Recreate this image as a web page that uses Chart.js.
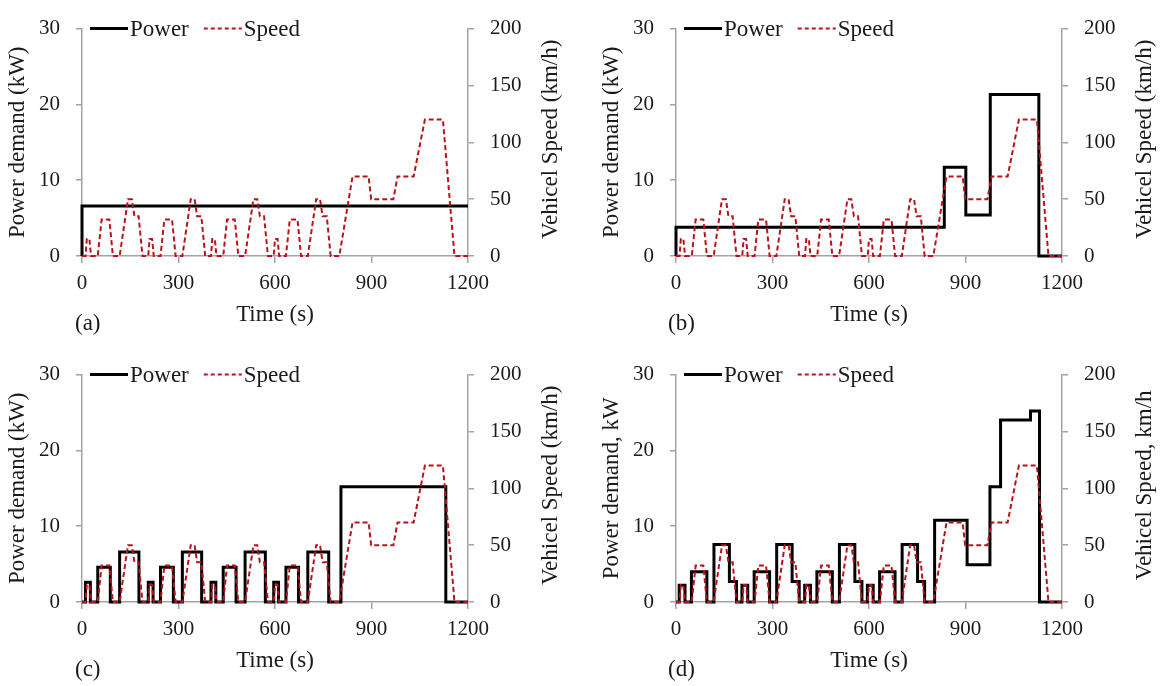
<!DOCTYPE html>
<html>
<head>
<meta charset="utf-8">
<script src="https://cdn.jsdelivr.net/npm/chart.js@4.4.1/dist/chart.umd.min.js"></script>
<style>
  body { margin: 0; background: #fff; }
  #wrap { position: relative; width: 1160px; height: 686px; overflow: hidden; }
  canvas { position: absolute; }
  .tag { position: absolute; font: 23px "Liberation Serif", serif; color: #1a1a1a; line-height: 23px; }
</style>
</head>
<body>
<div id="wrap">
  <canvas id="cA" width="580" height="346" style="left:0;top:0"></canvas>
  <canvas id="cB" width="580" height="346" style="left:594px;top:0"></canvas>
  <canvas id="cC" width="580" height="346" style="left:0;top:346px"></canvas>
  <canvas id="cD" width="580" height="346" style="left:594px;top:346px"></canvas>
  <span class="tag" style="left:75px;top:311px">(a)</span>
  <span class="tag" style="left:668px;top:311px">(b)</span>
  <span class="tag" style="left:75px;top:657px">(c)</span>
  <span class="tag" style="left:668px;top:657px">(d)</span>
</div>
<script>
// tick labels
const timeTicks = [0, 300, 600, 900, 1200];
const powerTicks = [0, 10, 20, 30];
const speedTicks = [0, 50, 100, 150, 200];

// speed profile (same in all four panels), km/h
const speedTime = [0, 11, 15, 23, 28, 49, 61, 85, 96, 117, 143, 155, 163, 176, 188,
  195, 206, 210, 218, 223, 244, 256, 280, 291, 312, 338, 350, 358, 371, 383,
  390, 401, 405, 413, 418, 439, 451, 475, 486, 507, 533, 545, 553, 566, 578,
  585, 596, 600, 608, 613, 634, 646, 670, 681, 702, 728, 740, 748, 761, 773,
  800, 841, 891, 899, 968, 981, 1031, 1066, 1122, 1158, 1200];
const speedKmh = [0, 0, 15, 15, 0, 0, 32, 32, 0, 0, 50, 50, 35, 35, 0,
  0, 0, 15, 15, 0, 0, 32, 32, 0, 0, 50, 50, 35, 35, 0,
  0, 0, 15, 15, 0, 0, 32, 32, 0, 0, 50, 50, 35, 35, 0,
  0, 0, 15, 15, 0, 0, 32, 32, 0, 0, 50, 50, 35, 35, 0,
  0, 70, 70, 50, 50, 70, 70, 120, 120, 0, 0];

// power demand, kW (each value holds until the next time)
const powerTimeA = [0, 0, 1200];
const powerKwA = [0, 6.6, 6.6];

const powerTimeB = [0, 0, 834, 901, 977, 1128, 1200];
const powerKwB = [0, 3.8, 11.7, 5.4, 21.3, 0, 0];

const powerTimeC = [0, 11, 26, 49, 88, 117, 177, 206, 221, 244, 284, 312, 372,
  401, 416, 439, 479, 507, 570, 596, 611, 634, 673, 702, 767, 805, 1131, 1200];
const powerKwC = [0, 2.6, 0, 4.6, 0, 6.6, 0, 2.6, 0, 4.6, 0, 6.6, 0,
  2.6, 0, 4.6, 0, 6.6, 0, 2.6, 0, 4.6, 0, 6.6, 0, 15.2, 0, 0];

const powerTimeD = [0, 10, 28, 48, 96, 118, 166, 188, 205, 223, 243, 291, 313, 361, 383,
  400, 418, 438, 486, 508, 556, 578, 595, 613, 633, 681, 703, 751, 773,
  804, 905, 976, 1009, 1102, 1130, 1200];
const powerKwD = [0, 2.2, 0, 4.0, 0, 7.6, 2.7, 0, 2.2, 0, 4.0, 0, 7.6, 2.7, 0,
  2.2, 0, 4.0, 0, 7.6, 2.7, 0, 2.2, 0, 4.0, 0, 7.6, 2.7, 0,
  10.8, 4.9, 15.2, 24.0, 25.2, 0, 0];

const FONT = '"Liberation Serif", serif';
const INK = '#1a1a1a';
const AXIS = '#a3a3a3';

// legend drawn on the top edge of the plot, like the original
const topLegend = {
  id: 'topLegend',
  afterDraw(chart) {
    const ctx = chart.ctx;
    let x = chart.chartArea.left + 8;
    const y = chart.chartArea.top;
    ctx.save();
    ctx.font = '23px ' + FONT;
    ctx.textBaseline = 'middle';
    chart.data.datasets.forEach(ds => {
      ctx.strokeStyle = ds.borderColor;
      ctx.lineWidth = ds.borderWidth;
      ctx.setLineDash(ds.legendDash || []);
      ctx.beginPath();
      ctx.moveTo(x, y);
      ctx.lineTo(x + 38, y);
      ctx.stroke();
      ctx.setLineDash([]);
      x += 40;
      ctx.fillStyle = INK;
      ctx.fillText(ds.label, x, y + 1);
      x += ctx.measureText(ds.label).width + 15;
    });
    ctx.restore();
  }
};

// right axis title reads bottom-to-top in the original, chart.js turns it the other way
const rightTitle = {
  id: 'rightTitle',
  afterDraw(chart, args, opts) {
    const s = chart.scales.y2;
    const ctx = chart.ctx;
    ctx.save();
    ctx.translate(s.right - 29, (chart.chartArea.top + chart.chartArea.bottom) / 2 - 3);
    ctx.rotate(-Math.PI / 2);
    ctx.font = '23px ' + FONT;
    ctx.fillStyle = INK;
    ctx.textAlign = 'center';
    ctx.textBaseline = 'middle';
    ctx.fillText(opts.text, 0, 0);
    ctx.restore();
  }
};

function pairs(xs, ys) {
  return xs.map((t, i) => ({x: t, y: ys[i]}));
}

function fixedTicks(list) {
  return scale => { scale.ticks = list.map(v => ({value: v})); };
}

function makeChart(id, pTime, pKw, leftText, rightText) {
  return new Chart(document.getElementById(id), {
    type: 'line',
    data: {
      datasets: [
        {
          label: 'Power',
          data: pairs(pTime, pKw),
          yAxisID: 'y',
          stepped: true,
          borderColor: '#000',
          borderWidth: 3,
          pointRadius: 0,
          clip: 4,
          order: 2
        },
        {
          label: 'Speed',
          data: pairs(speedTime, speedKmh),
          yAxisID: 'y2',
          borderColor: '#b8121b',
          borderWidth: 2,
          borderDash: [5, 3],
          legendDash: [4, 3],
          pointRadius: 0,
          tension: 0,
          clip: 4,
          order: 1
        }
      ]
    },
    options: {
      responsive: false,
      animation: false,
      devicePixelRatio: 1,
      layout: {padding: {top: 20, left: 0, right: 0, bottom: 0}},
      plugins: {
        legend: {display: false},
        tooltip: {enabled: false},
        rightTitle: {text: rightText}
      },
      scales: {
        x: {
          type: 'linear',
          min: 0, max: 1200,
          afterBuildTicks: fixedTicks(timeTicks),
          afterFit: s => { s.height = 90; },
          grid: {drawOnChartArea: false, tickLength: 7, color: AXIS, lineWidth: 1.5},
          border: {color: AXIS, width: 1.5},
          ticks: {font: {family: FONT, size: 21}, color: INK, padding: 8, maxRotation: 0,
                  callback: v => String(v)},
          title: {display: true, text: 'Time (s)', font: {family: FONT, size: 23}, color: INK,
                  padding: {top: 0, bottom: 17}}
        },
        y: {
          position: 'left',
          min: 0, max: 30,
          afterBuildTicks: fixedTicks(powerTicks),
          afterFit: s => { s.width = 82; },
          grid: {drawOnChartArea: false, tickLength: 6, color: AXIS, lineWidth: 1.5},
          border: {color: AXIS, width: 1.5},
          ticks: {font: {family: FONT, size: 21}, color: INK, padding: 16},
          title: {display: true, text: leftText, font: {family: FONT, size: 23}, color: INK,
                  padding: {top: 4, bottom: 0}}
        },
        y2: {
          position: 'right',
          min: 0, max: 200,
          afterBuildTicks: fixedTicks(speedTicks),
          afterFit: s => { s.width = 112; },
          grid: {drawOnChartArea: false, tickLength: 6, color: AXIS, lineWidth: 1.5},
          border: {color: AXIS, width: 1.5},
          ticks: {font: {family: FONT, size: 21}, color: INK, padding: 16}
        }
      }
    },
    plugins: [topLegend, rightTitle]
  });
}

makeChart('cA', powerTimeA, powerKwA, 'Power demand (kW)', 'Vehicel Speed (km/h)');
makeChart('cB', powerTimeB, powerKwB, 'Power demand (kW)', 'Vehicel Speed (km/h)');
makeChart('cC', powerTimeC, powerKwC, 'Power demand (kW)', 'Vehicel Speed (km/h)');
makeChart('cD', powerTimeD, powerKwD, 'Power demand, kW', 'Vehicel Speed, km/h');
</script>
</body>
</html>
